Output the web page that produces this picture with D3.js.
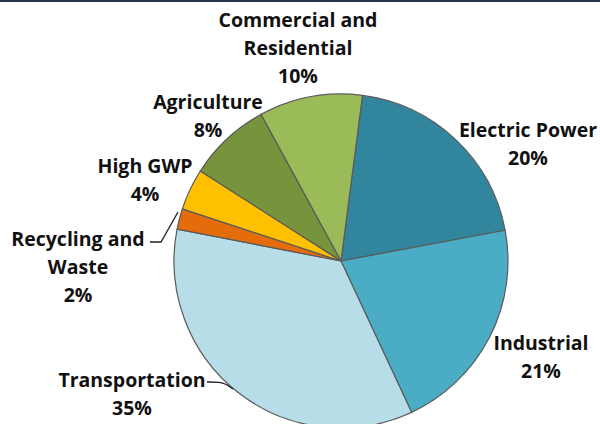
<!DOCTYPE html>
<html>
<head>
<meta charset="utf-8">
<script src="https://cdn.jsdelivr.net/npm/d3@7"></script>
<style>
  body { margin: 0; background: #fff; }
  #chart { width: 600px; height: 424px; }
  .lbl { font-family: "Open Sans", sans-serif; font-weight: 700; font-size: 19.5px; fill: #111; }
</style>
</head>
<body>
<div id="chart"></div>
<script>
// ------------- Data ----------------- //
const sectors = ['Electric Power', 'Industrial', 'Transportation', 'Recycling and Waste',
  'High GWP', 'Agriculture', 'Commercial and Residential'];
const shares = [20, 21, 35, 2, 4, 8, 10];
const colors = ['#31859c', '#4bacc6', '#b7dde8', '#e46c0a', '#ffc000', '#77933c', '#9bbb59'];

// label lines + where each label block is centred (first line)
const labelLines = [
  ['Electric Power'], ['Industrial'], ['Transportation'], ['Recycling and', 'Waste'],
  ['High GWP'], ['Agriculture'], ['Commercial and', 'Residential']
];
const labelPos = [[528, 130], [541, 343], [132, 380], [78, 239], [145, 166], [208, 102], [298, 20]];

const width = 600, height = 424;
const cx = 341, cy = 261, radius = 167;
const lineH = 28;

const svg = d3.select('#chart')
  .append('svg')
  .attr('width', width)
  .attr('height', height);

// thin dark rule along the top edge
svg.append('rect')
  .attr('x', 0).attr('y', 0)
  .attr('width', width).attr('height', 2)
  .attr('fill', '#26304f');

const pie = d3.pie()
  .sort(null)
  .value(d => d)
  .startAngle(7.4 * Math.PI / 180)
  .endAngle((7.4 + 360) * Math.PI / 180);

const arc = d3.arc().innerRadius(0).outerRadius(radius);

const g = svg.append('g')
  .attr('transform', 'translate(' + cx + ',' + cy + ')');

g.selectAll('path')
  .data(pie(shares))
  .join('path')
  .attr('d', arc)
  .attr('fill', (d, i) => colors[i])
  .attr('stroke', '#5a5a5a')
  .attr('stroke-width', 1.2)
  .attr('stroke-linejoin', 'round');

// labels
sectors.forEach((s, i) => {
  const [x, y] = labelPos[i];
  const lines = labelLines[i].concat([shares[i] + '%']);
  const t = svg.append('text')
    .attr('class', 'lbl')
    .attr('text-anchor', 'middle');
  lines.forEach((ln, k) => {
    t.append('tspan')
      .attr('x', x)
      .attr('y', y + k * lineH)
      .attr('dy', '0.35em')
      .text(ln);
  });
});

// leader lines
svg.append('path')
  .attr('d', d3.line()([[150, 242], [161, 242], [178, 212]]))
  .attr('fill', 'none')
  .attr('stroke', '#222')
  .attr('stroke-width', 1.3);

svg.append('path')
  .attr('d', d3.line().curve(d3.curveBasis)([[207, 382], [220, 382], [226, 384], [233, 389]]))
  .attr('fill', 'none')
  .attr('stroke', '#222')
  .attr('stroke-width', 1.3);
</script>
</body>
</html>
